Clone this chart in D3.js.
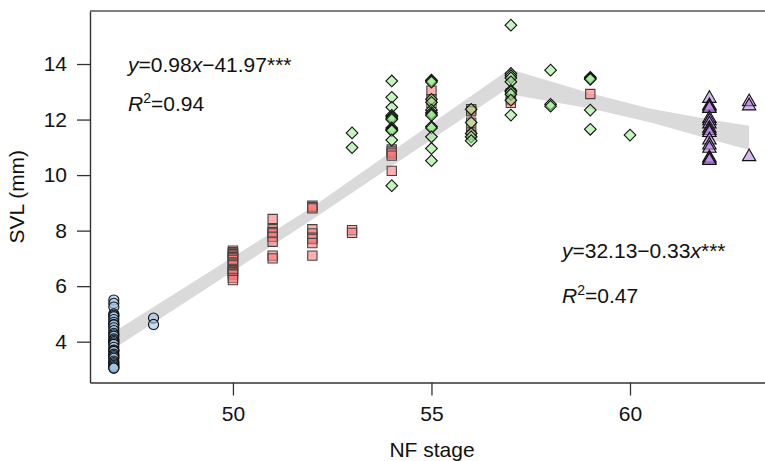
<!DOCTYPE html>
<html>
<head>
<meta charset="utf-8">
<script src="https://cdn.jsdelivr.net/npm/d3@7"></script>
<style>
  body { margin: 0; background: #fff; }
  svg { display: block; font-family: "Liberation Sans", Arial, sans-serif; }
</style>
</head>
<body>
<svg id="chart" width="765" height="461"></svg>
<script>
"use strict";

// [NF stage, SVL mm], repeats where markers pile up
const circlePts = [
  [47,5.5],[47,5.38],[47,5.25],[47,5.0],[47,4.95],[47,4.9],[47,4.8],[47,4.7],
  [47,4.62],[47,4.6],[47,4.5],[47,4.4],[47,4.3],[47,4.25],[47,4.2],[47,4.1],
  [47,4.05],[47,4.0],[47,3.95],[47,3.9],[47,3.8],[47,3.7],[47,3.68],[47,3.65],
  [47,3.55],[47,3.5],[47,3.45],[47,3.4],[47,3.3],[47,3.25],[47,3.2],[47,3.15],
  [47,3.1],[47,3.05],[47,3.05],
  [48,4.85],[48,4.62]
];
const squarePts = [
  [50,7.28],[50,7.22],[50,7.2],[50,7.15],[50,7.1],[50,7.05],[50,7.02],[50,6.95],
  [50,6.85],[50,6.8],[50,6.75],[50,6.62],[50,6.58],[50,6.55],[50,6.5],[50,6.45],
  [50,6.42],[50,6.3],[50,6.22],
  [51,8.42],[51,8.05],[51,7.95],[51,7.9],[51,7.78],[51,7.6],[51,7.1],[51,7.0],
  [52,8.9],[52,8.85],[52,8.8],[52,8.05],[52,7.9],[52,7.75],[52,7.7],[52,7.55],[52,7.1],
  [53,8.02],[53,7.92],
  [54,10.92],[54,10.85],[54,10.78],[54,10.7],[54,10.15],
  [55,13.04],[55,12.73],[55,12.6],
  [56,12.37],[56,12.3],[56,11.89],[56,11.53],[56,11.45],
  [57,12.95],[57,12.72],[57,12.6],
  [59,12.92]
];
const diamondPts = [
  [53,11.52],[53,10.99],
  [54,13.39],[54,12.8],[54,12.44],[54,12.15],[54,12.1],[54,12.05],[54,12.0],
  [54,11.7],[54,11.65],[54,11.62],[54,11.6],[54,11.26],[54,9.62],
  [55,13.42],[55,13.4],[55,13.35],[55,12.73],[55,12.62],[55,12.34],[55,12.25],
  [55,12.2],[55,12.15],[55,11.75],[55,11.7],[55,11.38],[55,10.96],[55,10.52],
  [56,12.37],[56,11.89],[56,11.5],[56,11.38],[56,11.24],
  [57,15.4],[57,13.66],[57,13.58],[57,13.5],[57,13.36],[57,13.05],[57,13.0],
  [57,12.91],[57,12.7],[57,12.16],
  [58,13.78],[58,12.55],[58,12.48],
  [59,13.52],[59,13.48],[59,13.45],[59,12.34],[59,11.65],
  [60,11.44]
];
const trianglePts = [
  [62,12.76],[62,12.5],[62,12.45],[62,12.4],[62,12.04],[62,11.95],[62,11.84],
  [62,11.68],[62,11.6],[62,11.53],[62,11.26],[62,11.08],[62,10.96],[62,10.62],
  [62,10.57],[62,10.52],
  [63,12.64],[63,12.49],[63,10.66]
];

// confidence ribbons of the two regression segments: [stage, low, high]
const bandRising = [[47,3.75,4.35],[52,8.4,8.85],[57,13.2,13.85]];
const bandFalling = [[57,12.9,13.8],[59,12.4,12.95],[60.5,11.9,12.4],[62,11.3,12.0],[63,10.9,11.78]];

const xTicks = [50, 55, 60];
const yTicks = [4, 6, 8, 10, 12, 14];

const svg = d3.select("#chart");
const margin = {top: 11, right: 0, bottom: 78.5, left: 90};
const W = +svg.attr("width"), H = +svg.attr("height");

const x = d3.scaleLinear().domain([46.4, 63.4]).range([margin.left, W - margin.right]);
const y = d3.scaleLinear().domain([2.53, 15.91]).range([H - margin.bottom, margin.top]);

const ink = "#333";
const fontSize = "21px";

// ribbons
const area = d3.area()
  .x(d => x(d[0]))
  .y0(d => y(d[1]))
  .y1(d => y(d[2]));
[bandRising, bandFalling].forEach(b => {
  svg.append("path").attr("d", area(b)).attr("fill", "#dadada");
});

// axes
const xAxis = svg.append("g")
  .attr("transform", "translate(0," + (H - margin.bottom) + ")")
  .call(d3.axisBottom(x).tickValues(xTicks).tickSize(13).tickSizeOuter(0).tickPadding(11));
const yAxis = svg.append("g")
  .attr("transform", "translate(" + margin.left + ",0)")
  .call(d3.axisLeft(y).tickValues(yTicks).tickSize(13).tickSizeOuter(0).tickPadding(10));

[xAxis, yAxis].forEach(g => {
  g.select(".domain").attr("stroke", ink).attr("stroke-width", 1.4);
  g.selectAll(".tick line").attr("stroke", ink).attr("stroke-width", 1.3);
  g.selectAll(".tick text")
    .attr("fill", "#111")
    .style("font-size", fontSize)
    .style("font-family", "'Liberation Sans', Arial, sans-serif");
});

// top border
svg.append("line")
  .attr("x1", margin.left).attr("x2", W)
  .attr("y1", margin.top).attr("y2", margin.top)
  .attr("stroke", "#555").attr("stroke-width", 1.4);

// markers
function drawGroup(pts, type, size, fill, stroke, rotate) {
  svg.append("g").selectAll("path")
    .data(pts)
    .enter().append("path")
      .attr("d", d3.symbol().type(type).size(size))
      .attr("transform", d => "translate(" + x(d[0]) + "," + y(d[1]) + ")" + (rotate ? " rotate(45)" : ""))
      .attr("fill", fill)
      .attr("fill-opacity", 0.6)
      .attr("stroke", stroke)
      .attr("stroke-width", 1.1);
}
drawGroup(circlePts, d3.symbolCircle, 80, "#a0c5e9", "#111", false);
drawGroup(squarePts, d3.symbolSquare, 86, "#ff7a7a", "#444", false);
drawGroup(diamondPts, d3.symbolSquare, 68, "#9eee93", "#111", true);
drawGroup(trianglePts, d3.symbolTriangle, 78, "#b684e6", "#111", false);

// regression labels
function equation(px, py, parts) {
  const t = svg.append("text").attr("x", px).attr("y", py)
    .attr("fill", "#111").style("font-size", fontSize);
  parts.forEach(p => {
    const s = t.append("tspan").text(p[0]);
    if (p[1] === "i") s.style("font-style", "italic");
    if (p[1] === "sup") s.style("font-size", "14px").attr("dy", -8);
    if (p[1] === "down") s.attr("dy", 8);
  });
}
equation(128, 72, [["y","i"],["=0.98"],["x","i"],["\u221241.97***"]]);
equation(128, 111, [["R","i"],["2","sup"],["=0.94","down"]]);
equation(562, 258, [["y","i"],["=32.13\u22120.33"],["x","i"],["***"]]);
equation(562, 303, [["R","i"],["2","sup"],["=0.47","down"]]);

// axis titles
svg.append("text")
  .attr("x", 432).attr("y", 457)
  .attr("text-anchor", "middle")
  .attr("fill", "#111").style("font-size", fontSize)
  .text("NF stage");
svg.append("text")
  .attr("transform", "translate(24," + ((margin.top + H - margin.bottom) / 2) + ") rotate(-90)")
  .attr("text-anchor", "middle")
  .attr("fill", "#111").style("font-size", fontSize)
  .text("SVL (mm)");
</script>
</body>
</html>
